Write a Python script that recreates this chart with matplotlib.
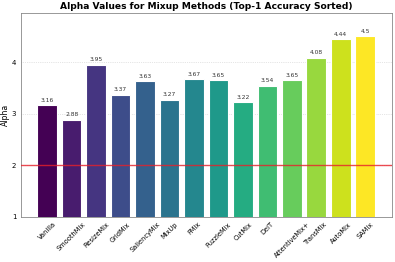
import numpy as np
import matplotlib.pyplot as plt

methods = ['Vanilla', 'SmoothMix', 'ResizeMix', 'GridMix', 'SaliencyMix', 'MixUp',
           'FMix', 'PuzzleMix', 'CutMix', 'DeiT', 'AttentiveMix+', 'TransMix',
           'AutoMix', 'SAMix']
alphas = [3.16, 2.88, 3.95, 3.37, 3.63, 3.27, 3.67, 3.65, 3.22, 3.54, 3.65, 4.08, 4.44, 4.5]

colors = plt.cm.viridis(np.linspace(0, 1, len(methods)))

fig, ax = plt.subplots(figsize=(3.95, 2.62), dpi=100)
x = np.arange(len(methods))
bars = ax.bar(x, alphas, width=0.8, color=colors, edgecolor='white', linewidth=0.8)

for xi, v in zip(x, alphas):
    ax.text(xi, v + 0.05, str(v), ha='center', va='bottom', fontsize=4.3, color='#333333')

ax.axhline(2, color='#e8202a', alpha=0.8, linewidth=1.0, zorder=3)

ax.set_ylim(1, max(alphas) * 1.1)
ax.set_yticks([1, 2, 3, 4])
ax.set_xticks(x)
ax.set_xticklabels(methods, rotation=45, ha='center', fontsize=4.8)
ax.tick_params(axis='y', labelsize=5)
ax.tick_params(length=0, pad=3)
ax.set_ylabel('Alpha', fontsize=5.6, labelpad=1.5)
ax.set_title('Alpha Values for Mixup Methods (Top-1 Accuracy Sorted)', fontsize=6.6,
             fontweight='bold', pad=3)
ax.yaxis.grid(True, linestyle=':', linewidth=0.5, color='#cccccc')
ax.set_axisbelow(True)
for s in ax.spines.values():
    s.set_color('#888888')
    s.set_linewidth(0.6)

fig.subplots_adjust(left=0.052, right=0.992, top=0.95, bottom=0.172)
fig.savefig('out.png', dpi=100)
